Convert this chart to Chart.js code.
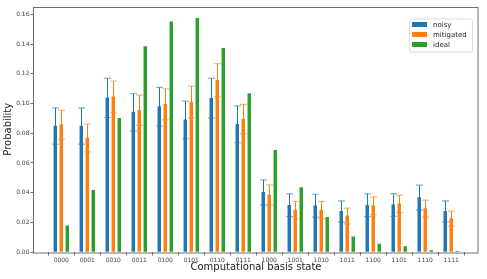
<!DOCTYPE html>
<html>
<head>
<meta charset="utf-8">
<script src="https://cdn.jsdelivr.net/npm/chart.js@4/dist/chart.umd.min.js"></script>
<style>
html,body{margin:0;padding:0;background:#fff;}
canvas{display:block;}
</style>
</head>
<body>
<canvas id="c" width="487" height="279"></canvas>
<script>
const categories = ["0000","0001","0010","0011","0100","0101","0110","0111","1000","1001","1010","1011","1100","1101","1110","1111"];
const noisy       = [0.0849,0.0849,0.1038,0.0942,0.0979,0.0890,0.1036,0.0860,0.0402,0.0315,0.0312,0.0274,0.0315,0.0317,0.0366,0.0274];
const noisyErr    = [0.0122,0.0122,0.0132,0.0126,0.0130,0.0127,0.0134,0.0124,0.0084,0.0076,0.0077,0.0071,0.0077,0.0076,0.0084,0.0071];
const mitigated   = [0.0858,0.0768,0.1045,0.0955,0.0995,0.1010,0.1157,0.0896,0.0384,0.0283,0.0283,0.0243,0.0312,0.0324,0.0292,0.0225];
const mitigatedErr= [0.0098,0.0093,0.0107,0.0102,0.0105,0.0107,0.0112,0.0099,0.0068,0.0059,0.0058,0.0053,0.0060,0.0059,0.0057,0.0051];
const ideal       = [0.0177,0.0416,0.0901,0.1384,0.1550,0.1575,0.1373,0.1067,0.0685,0.0434,0.0234,0.0103,0.0054,0.0036,0.0009,0.0005];
const yTicks = [0,0.02,0.04,0.06,0.08,0.10,0.12,0.14,0.16];

const FONT = "'DejaVu Sans', sans-serif";
const pts = arr => arr.map((v,i)=>({x:i,y:v}));

const errorBars = {
  id:'errorBars',
  afterDatasetsDraw(chart){
    const ctx = chart.ctx, ys = chart.scales.y;
    chart.data.datasets.forEach((ds,di)=>{
      if(!ds.err) return;
      const meta = chart.getDatasetMeta(di);
      meta.data.forEach((el,i)=>{
        const v = ds.data[i].y, e = ds.err[i];
        const yTop = ys.getPixelForValue(v+e), yBot = ys.getPixelForValue(v-e);
        const x = Math.round(el.x)+0.5;
        ctx.save();
        ctx.strokeStyle = ds.errColor;
        ctx.lineWidth = 1;
        ctx.beginPath(); ctx.moveTo(x,yTop); ctx.lineTo(x,yBot); ctx.stroke();
        ctx.strokeStyle = ds.capColor;
        ctx.lineWidth = 1.2;
        ctx.beginPath();
        ctx.moveTo(x-3.5,yTop); ctx.lineTo(x+3.5,yTop);
        ctx.moveTo(x-3.5,yBot); ctx.lineTo(x+3.5,yBot);
        ctx.stroke();
        ctx.restore();
      });
    });
  }
};

const frameAndLegend = {
  id:'frameAndLegend',
  afterDraw(chart){
    const ctx = chart.ctx, a = chart.chartArea;
    ctx.save();
    ctx.strokeStyle = '#6f6f6f';
    ctx.lineWidth = 1;
    ctx.strokeRect(Math.round(a.left)-0.5, Math.round(a.top)+0.5, Math.round(a.right-a.left)+0.5, Math.round(a.bottom-a.top)-0.5);
    // legend
    const bx = a.right - 69, by = a.top + 12, bw = 63, bh = 33;
    ctx.fillStyle = 'rgba(255,255,255,0.8)';
    ctx.strokeStyle = '#dcdcdc';
    ctx.beginPath();
    ctx.roundRect(bx+0.5, by+0.5, bw, bh, 2);
    ctx.fill(); ctx.stroke();
    ctx.font = "7px " + FONT;
    ctx.textBaseline = 'middle';
    ctx.fillStyle = '#262626';
    chart.data.datasets.forEach((ds,i)=>{
      const cy = by + 6 + i*10;
      ctx.fillStyle = ds.backgroundColor;
      ctx.fillRect(bx+3, cy-2.5, 15, 5);
      ctx.fillStyle = '#262626';
      ctx.fillText(ds.label, bx+24, cy+0.5);
    });
    ctx.restore();
  }
};

new Chart(document.getElementById('c'), {
  type:'bar',
  data:{
    datasets:[
      {label:'noisy', data:pts(noisy), err:noisyErr, backgroundColor:'#1f77b4', errColor:'#1f77b4', capColor:'rgba(31,119,180,0.55)'},
      {label:'mitigated', data:pts(mitigated), err:mitigatedErr, backgroundColor:'#ff7f0e', errColor:'#ff7f0e', capColor:'rgba(255,127,14,0.55)'},
      {label:'ideal', data:pts(ideal), backgroundColor:'#2ca02c'}
    ]
  },
  options:{
    responsive:false,
    animation:false,
    devicePixelRatio:1,
    barThickness:6,
    maxBarThickness:2.8,
    layout:{padding:{left:0,top:6.5,right:9,bottom:0}},
    plugins:{legend:{display:false},tooltip:{enabled:false}},
    scales:{
      x:{
        type:'linear', offset:false, min:-1.05, max:16.03,
        afterBuildTicks(s){ s.ticks = categories.map((c,i)=>({value:i})); },
        afterFit(s){ s.height = 27; },
        ticks:{callback:(v)=>categories[v], font:{family:FONT,size:6}, color:'#444', padding:1, maxRotation:0, autoSkip:false},
        grid:{display:true, drawOnChartArea:false, drawTicks:true, tickLength:3.5, tickColor:'#6f6f6f'},
        border:{display:false},
        title:{display:true, text:'Computational basis state', font:{family:FONT,size:10}, color:'#222', padding:{top:0,bottom:6}}
      },
      y:{
        min:0, max:0.1654,
        afterBuildTicks(s){ s.ticks = yTicks.map(v=>({value:v})); },
        afterFit(s){ s.width = 34; },
        ticks:{callback:(v)=>v.toFixed(2), font:{family:FONT,size:6}, color:'#444', padding:1},
        grid:{display:true, drawOnChartArea:false, drawTicks:true, tickLength:3.5, tickColor:'#6f6f6f'},
        border:{display:false},
        title:{display:true, text:'Probability', font:{family:FONT,size:10}, color:'#222', padding:{top:2,bottom:0}}
      }
    }
  },
  plugins:[errorBars, frameAndLegend]
});
</script>
</body>
</html>
